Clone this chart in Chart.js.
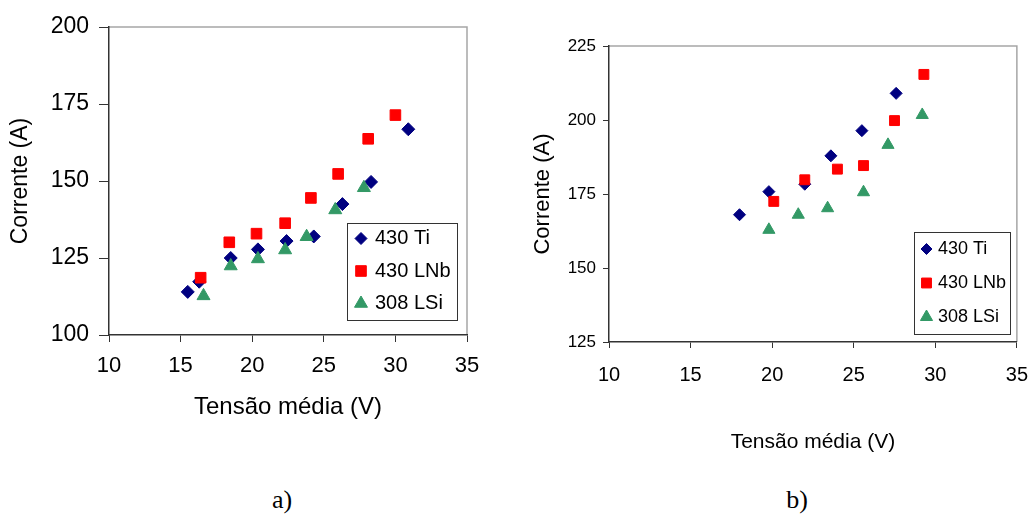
<!DOCTYPE html>
<html><head><meta charset="utf-8">
<script src="https://cdn.jsdelivr.net/npm/chart.js@4.4.1/dist/chart.umd.min.js"></script>
<style>
html,body{margin:0;padding:0;background:#fff;width:1031px;height:514px;overflow:hidden;}
canvas{position:absolute;top:0;}
#cA{left:0;} #cB{left:515px;}
.lab{position:absolute;font-family:'Liberation Serif','Times New Roman',serif;font-size:26px;color:#000;transform:translate(-50%,-50%);line-height:1;}
</style></head><body>
<canvas id="cA" width="515" height="440"></canvas>
<canvas id="cB" width="516" height="460"></canvas>
<div class="lab" style="left:282px;top:500px">a)</div>
<div class="lab" style="left:797px;top:500px">b)</div>
<script>
// ---- data ----
const seriesNames = ['430 Ti', '430 LNb', '308 LSi'];
const xTitle = 'Tensão média (V)';
const yTitle = 'Corrente (A)';
const xTicks = [10, 15, 20, 25, 30, 35];
const yTicksA = [100, 125, 150, 175, 200];
const yTicksB = [125, 150, 175, 200, 225];

// chart a)
const voltA_Ti  = [15.5, 16.3, 18.5, 20.4, 22.4, 24.3, 26.3, 28.3, 30.9];
const currA_Ti  = [114.0, 117.3, 125.0, 127.8, 130.5, 132.0, 142.5, 149.7, 166.8];
const voltA_LNb = [16.4, 18.4, 20.3, 22.3, 24.1, 26.0, 28.1, 30.0];
const currA_LNb = [118.6, 130.1, 132.9, 136.3, 144.5, 152.3, 163.7, 171.4];
const voltA_LSi = [16.6, 18.5, 20.4, 22.3, 23.8, 25.8, 27.8];
const currA_LSi = [112.7, 122.4, 124.7, 127.6, 131.9, 140.6, 147.8];

// chart b)
const voltB_Ti  = [18.0, 19.8, 22.0, 23.6, 25.5, 27.6];
const currB_Ti  = [168.0, 175.8, 178.3, 187.9, 196.4, 209.0];
const voltB_LNb = [20.1, 22.0, 24.0, 25.6, 27.5, 29.3];
const currB_LNb = [172.5, 179.8, 183.4, 184.6, 199.8, 215.4];
const voltB_LSi = [19.8, 21.6, 23.4, 25.6, 27.1, 29.2];
const currB_LSi = [162.9, 168.0, 170.2, 175.6, 191.6, 201.7];

// ---- helpers ----
const pts = (xs, ys) => xs.map((x, i) => ({x: x, y: ys[i]}));
const FONT = '"Liberation Sans", Arial, Helvetica, sans-serif';
Chart.defaults.font.family = FONT;
Chart.defaults.color = '#000';

function drawMarker(ctx, style, r, x, y) {
  ctx.beginPath();
  if (style === 'rectRot') {
    ctx.moveTo(x - r, y); ctx.lineTo(x, y - r); ctx.lineTo(x + r, y); ctx.lineTo(x, y + r);
  } else if (style === 'rect') {
    const s = r * Math.SQRT1_2;
    ctx.rect(x - s, y - s, 2 * s, 2 * s);
  } else {
    const w = r * Math.sin(Math.PI / 3);
    ctx.moveTo(x, y - r); ctx.lineTo(x + w, y + r / 2); ctx.lineTo(x - w, y + r / 2);
  }
  ctx.closePath(); ctx.fill(); ctx.stroke();
}

const framePlugin = {
  id: 'frame',
  beforeDraw(chart) {
    const {ctx, chartArea: a} = chart;
    ctx.save();
    ctx.strokeStyle = '#a6a6a6'; ctx.lineWidth = 1.5;
    ctx.beginPath();
    ctx.moveTo(a.left, a.top); ctx.lineTo(a.right, a.top); ctx.lineTo(a.right, a.bottom);
    ctx.stroke();
    ctx.restore();
  }
};

const boxLegend = {
  id: 'boxLegend',
  afterDraw(chart, args, o) {
    const {ctx, chartArea: a} = chart;
    const L = Math.round(a.right - o.gapRight - o.width) + 0.5;
    const T = Math.round(a.bottom - o.gapBottom - o.height) + 0.5;
    ctx.save();
    ctx.fillStyle = '#fff'; ctx.fillRect(L, T, o.width, o.height);
    ctx.strokeStyle = '#333'; ctx.lineWidth = 1; ctx.strokeRect(L, T, o.width, o.height);
    ctx.font = o.size + 'px ' + FONT;
    ctx.textBaseline = 'middle'; ctx.textAlign = 'left';
    chart.data.datasets.forEach((ds, i) => {
      const y = T + o.first + i * o.gap;
      ctx.fillStyle = ds.backgroundColor; ctx.strokeStyle = ds.borderColor; ctx.lineWidth = 1;
      drawMarker(ctx, ds.pointStyle, o.markerR[i], L + o.markerX, y);
      ctx.fillStyle = '#000';
      ctx.fillText(ds.label, L + o.textX, y);
    });
    ctx.restore();
  }
};

const colors = ['#000080', '#ff0000', '#339966'];
const styles = ['rectRot', 'rect', 'triangle'];
const orders = [3, 2, 1];

function makeChart(id, series, radii, yTicks, g) {
  const datasets = series.map((d, i) => ({
    label: seriesNames[i],
    data: d,
    pointStyle: styles[i],
    pointRadius: radii[i],
    pointHoverRadius: radii[i],
    backgroundColor: colors[i],
    borderColor: colors[i],
    pointBorderWidth: 1,
    showLine: false,
    order: orders[i]
  }));
  return new Chart(document.getElementById(id), {
    type: 'scatter',
    data: {datasets},
    plugins: [framePlugin, boxLegend],
    options: {
      responsive: false,
      animation: false,
      layout: {padding: {left: 0, top: g.top, right: g.right, bottom: 0}},
      plugins: {
        legend: {display: false},
        tooltip: {enabled: false},
        boxLegend: g.legend
      },
      scales: {
        x: {
          type: 'linear', min: xTicks[0], max: xTicks[xTicks.length - 1],
          afterBuildTicks: s => { s.ticks = xTicks.map(v => ({value: v})); },
          afterFit: s => { s.height = g.xH; },
          grid: {drawOnChartArea: false, drawTicks: true, tickLength: g.xTickLen, color: '#333', lineWidth: 1},
          border: {display: true, color: '#333', width: 1.5},
          ticks: {font: {size: g.xTickSize, lineHeight: g.xTickLH}, padding: g.xTickPad, color: '#000', maxRotation: 0, autoSkip: false},
          title: {display: true, text: xTitle, font: {size: g.xTitleSize}, color: '#000', padding: {top: 0, bottom: g.xTitlePad}}
        },
        y: {
          type: 'linear', min: yTicks[0], max: yTicks[yTicks.length - 1],
          afterBuildTicks: s => { s.ticks = yTicks.map(v => ({value: v})); },
          afterFit: s => { s.width = g.yW; },
          grid: {drawOnChartArea: false, drawTicks: true, tickLength: g.yTickLen, color: '#333', lineWidth: 1},
          border: {display: true, color: '#333', width: 1.5},
          ticks: {font: {size: g.yTickSize}, padding: g.yTickPad, color: '#000', autoSkip: false},
          title: {display: true, text: yTitle, font: {size: g.yTitleSize}, color: '#000', padding: {top: g.yTitlePad, bottom: 0}}
        }
      }
    }
  });
}

makeChart('cA',
  [pts(voltA_Ti, currA_Ti), pts(voltA_LNb, currA_LNb), pts(voltA_LSi, currA_LSi)],
  [6.5, 7.5, 7.5], yTicksA,
  {top: 27, right: 48, xH: 105, yW: 109,
   xTickLen: 7, xTickSize: 22, xTickLH: 1.2, xTickPad: 11,
   yTickLen: 10, yTickSize: 23, yTickPad: 10,
   xTitleSize: 24, xTitlePad: 18, yTitleSize: 23, yTitlePad: 7,
   legend: {gapRight: 10, gapBottom: 15, width: 110, height: 97, first: 15, gap: 32.5,
            markerX: 13.5, textX: 27.5, size: 20, markerR: [6, 7.5, 7.5]}});

makeChart('cB',
  [pts(voltB_Ti, currB_Ti), pts(voltB_LNb, currB_LNb), pts(voltB_LSi, currB_LSi)],
  [6, 7, 7], yTicksB,
  {top: 46, right: 14, xH: 118, yW: 94,
   xTickLen: 6, xTickSize: 20, xTickLH: 2.4, xTickPad: 3,
   yTickLen: 6, yTickSize: 17, yTickPad: 7,
   xTitleSize: 21, xTitlePad: 5, yTitleSize: 22, yTitlePad: 15,
   legend: {gapRight: 7, gapBottom: 8, width: 96, height: 102, first: 16.5, gap: 34,
            markerX: 12, textX: 23.5, size: 18, markerR: [5.5, 7, 7]}});
</script>
</body></html>
